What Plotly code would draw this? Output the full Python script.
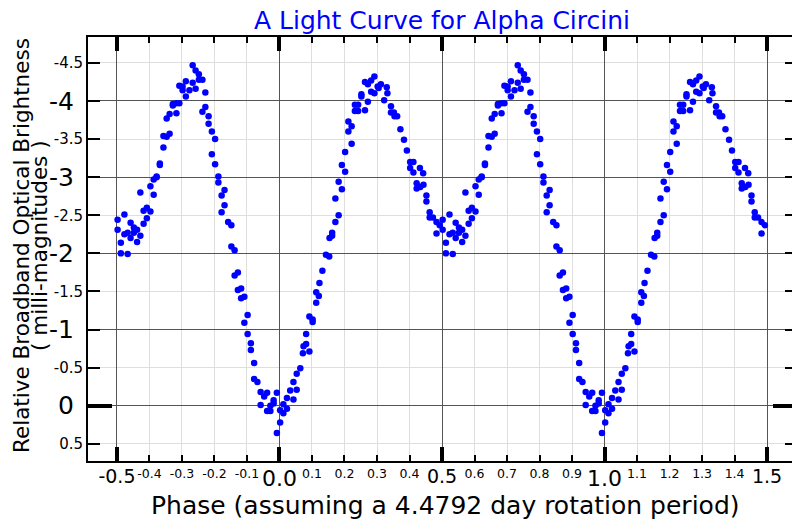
import plotly.graph_objects as go

# ---- Data: one rotation cycle (phase 0..1), relative brightness in milli-magnitudes
phase = [
    0.002, 0.002, 0.012, 0.012, 0.023, 0.023, 0.033, 0.043, 0.043, 0.053,
    0.053, 0.064, 0.072, 0.074, 0.082, 0.082, 0.092, 0.092, 0.102, 0.102,
    0.113, 0.113, 0.121, 0.123, 0.132, 0.143, 0.153, 0.154, 0.162, 0.162,
    0.172, 0.182, 0.172, 0.192, 0.182, 0.202, 0.192, 0.202, 0.222, 0.212,
    0.222, 0.212, 0.232, 0.242, 0.232, 0.242, 0.252, 0.252, 0.263, 0.263,
    0.272, 0.272, 0.282, 0.282, 0.292, 0.292, 0.302, 0.312, 0.305, 0.322,
    0.330, 0.332, 0.343, 0.343, 0.352, 0.354, 0.362, 0.372, 0.383, 0.392,
    0.402, 0.412, 0.402, 0.412, 0.432, 0.442, 0.422, 0.422, 0.433, 0.443,
    0.452, 0.452, 0.462, 0.462, 0.472, 0.483, 0.483, 0.493,
    0.502, 0.502, 0.512, 0.512, 0.523, 0.523, 0.533, 0.533, 0.542, 0.542,
    0.552, 0.552, 0.562, 0.562, 0.572, 0.572, 0.582, 0.582, 0.592, 0.592,
    0.603, 0.603, 0.613, 0.613, 0.622, 0.622, 0.632, 0.632, 0.643, 0.643,
    0.653, 0.662, 0.653, 0.662, 0.672, 0.672, 0.683, 0.683, 0.692, 0.692,
    0.702, 0.702, 0.712, 0.712, 0.723, 0.733, 0.733, 0.742, 0.742, 0.752,
    0.752, 0.763, 0.763, 0.772, 0.772, 0.782, 0.782, 0.792, 0.802, 0.792,
    0.802, 0.812, 0.812, 0.831, 0.822, 0.831, 0.822, 0.842, 0.852, 0.852,
    0.862, 0.862, 0.872, 0.872, 0.882, 0.882, 0.892, 0.902, 0.892, 0.902,
    0.912, 0.912, 0.922, 0.922, 0.932, 0.942, 0.942, 0.953, 0.962, 0.962,
    0.972, 0.972, 0.982, 0.982, 0.992, 0.992,
]
mag = [
    0.22, 0.06, 0.10, -0.02, 0.04, -0.10, -0.20, -0.08, -0.31, -0.21,
    -0.42, -0.49, -0.69, -0.78, -0.81, -0.94, -0.71, -1.17, -1.13, -1.10,
    -1.35, -1.49, -1.44, -1.61, -1.77, -1.98, -1.96, -2.20, -2.27, -2.23,
    -2.41, -2.50, -2.72, -2.84, -2.94, -3.07, -3.16, -3.33, -3.44, -3.60,
    -3.67, -3.73, -3.87, -3.87, -3.95, -3.95, -4.06, -4.09, -3.88, -4.25,
    -3.99, -4.22, -4.12, -4.27, -4.10, -4.32, -4.19, -4.22, -4.17, -4.01,
    -4.18, -4.10, -3.93, -3.85, -3.85, -3.80, -3.80, -3.63, -3.49, -3.35,
    -3.20, -3.20, -3.12, -3.06, -3.12, -3.05, -2.92, -2.85, -2.87, -2.90,
    -2.76, -2.68, -2.54, -2.47, -2.47, -2.41, -2.26, -2.37,
    -2.44, -2.31, -2.14, -2.00, -2.51, -2.25, -2.27, -1.99, -2.40, -2.20,
    -2.34, -2.27, -2.31, -2.15, -2.23, -2.80, -2.56, -2.39, -2.60, -2.46,
    -2.55, -2.88, -2.77, -2.97, -3.00, -3.01, -3.18, -3.16, -3.39, -3.54,
    -3.53, -3.57, -3.77, -3.83, -3.96, -3.94, -3.84, -3.97, -3.97, -4.20,
    -4.19, -4.14, -4.26, -4.06, -4.14, -4.47, -4.24, -4.40, -4.16, -4.35,
    -4.28, -4.28, -3.86, -4.11, -3.92, -3.80, -3.70, -3.60, -3.50, -3.30,
    -3.17, -3.01, -2.93, -2.83, -2.76, -2.63, -2.54, -2.41, -2.37, -2.09,
    -2.04, -1.71, -1.75, -1.52, -1.54, -1.41, -1.43, -1.19, -1.09, -0.94,
    -0.82, -0.73, -0.56, -0.35, -0.31, -0.18, -0.01, -0.12, -0.17, 0.07,
    0.07, 0.00, -0.07, -0.03, -0.17, 0.36,
]

x_major_big = [0.0, 1.0]
x_major_big_text = ["0.0", "1.0"]
x_major_mid = [-0.5, 0.5, 1.5]
x_major_mid_text = ["-0.5", "0.5", "1.5"]
x_minor = [-0.4, -0.3, -0.2, -0.1, 0.1, 0.2, 0.3, 0.4, 0.6, 0.7, 0.8, 0.9,
           1.1, 1.2, 1.3, 1.4]
x_minor_text = ["-0.4", "-0.3", "-0.2", "-0.1", "0.1", "0.2", "0.3", "0.4",
                "0.6", "0.7", "0.8", "0.9", "1.1", "1.2", "1.3", "1.4"]
y_major = [-4, -3, -2, -1, 0]
y_major_text = ["-4", "-3", "-2", "-1", "0"]
y_minor = [-4.5, -3.5, -2.5, -1.5, -0.5, 0.5]
y_minor_text = ["-4.5", "-3.5", "-2.5", "-1.5", "-0.5", "0.5"]

x_range = [-0.589, 1.592]
y_range = [0.726, -4.84]

# phase-folded display from -0.5 to 1.5 (each observation shown twice)
px, py = [], []
for p, m in zip(phase, mag):
    px.append(p)
    py.append(m)
    px.append(p - 1 if p >= 0.5 else p + 1)
    py.append(m)

FONT = "DejaVu Sans"
fig = go.Figure()
fig.add_trace(go.Scatter(x=px, y=py, mode="markers",
                         marker=dict(color="#0000ff", size=6.5),
                         showlegend=False, hoverinfo="x+y"))
# invisible traces to activate overlay axes
fig.add_trace(go.Scatter(x=[None], y=[None], xaxis="x2", yaxis="y2", showlegend=False))
fig.add_trace(go.Scatter(x=[None], y=[None], xaxis="x3", yaxis="y3", showlegend=False))

common_x = dict(range=x_range, fixedrange=True, zeroline=False, automargin=False)
common_y = dict(range=y_range, fixedrange=True, zeroline=False, automargin=False)

# page is offset by the 8px body margin
fig.update_layout(
    template="none",
    width=800, height=520,
    margin=dict(l=80, r=11, t=29, b=67, pad=0),
    paper_bgcolor="white", plot_bgcolor="white",
    font=dict(family=FONT, color="black"),
    title=dict(text="A Light Curve for Alpha Circini", font=dict(family=FONT, size=25, color="#0000ff"),
               x=434 / 800, xanchor="center", yref="container", y=1 - 12 / 520, yanchor="middle",
               automargin=False),
    xaxis=dict(**common_x, tickmode="array", tickvals=x_major_mid + x_major_big,
               ticktext=x_major_mid_text + ["", ""],
               tickfont=dict(size=19), ticks="inside", ticklen=14, tickwidth=4, tickcolor="black",
               showgrid=True, gridcolor="#555555", gridwidth=1,
               showline=True, linecolor="black", linewidth=2, mirror="allticks",
               ticklabelstandoff=-3,
               minor=dict(tickmode="array", tickvals=x_minor, ticks="inside", ticklen=6,
                          tickwidth=1.5, tickcolor="black", showgrid=True,
                          gridcolor="#dedede", gridwidth=1)),
    xaxis2=dict(**common_x, overlaying="x", side="bottom", tickmode="array",
                tickvals=x_major_big, ticktext=x_major_big_text, tickfont=dict(size=22),
                ticks="", showgrid=False, showline=False, ticklabelstandoff=2),
    xaxis3=dict(**common_x, overlaying="x", side="bottom", tickmode="array",
                tickvals=x_minor, ticktext=x_minor_text, tickfont=dict(size=12.5),
                ticks="", showgrid=False, showline=False, ticklabelstandoff=3),
    yaxis=dict(**common_y, tickmode="array", tickvals=y_major, ticktext=y_major_text,
               tickfont=dict(size=25), ticks="inside", ticklen=12, tickwidth=1.5, tickcolor="black",
               showgrid=True, gridcolor="#555555", gridwidth=1,
               showline=True, linecolor="black", linewidth=2, mirror="allticks",
               ticklabelstandoff=7,
               minor=dict(tickmode="array", tickvals=y_minor, ticks="inside", ticklen=12,
                          tickwidth=1.5, tickcolor="black", showgrid=True,
                          gridcolor="#dedede", gridwidth=1)),
    yaxis2=dict(**common_y, overlaying="y", side="left", tickmode="array",
                tickvals=y_minor, ticktext=y_minor_text, tickfont=dict(size=15),
                ticks="", showgrid=False, showline=False, ticklabelstandoff=4),
    yaxis3=dict(**common_y, overlaying="y", side="left", tickmode="array",
                tickvals=[0], ticks="inside", ticklen=24, tickwidth=4, tickcolor="black",
                showticklabels=False, showgrid=False, showline=False, mirror="ticks"),
    annotations=[
        dict(text="Phase (assuming a 4.4792 day rotation period)", xref="paper", yref="paper",
             x=(445 - 88) / 709, y=(461 - 505) / 424, xanchor="center", yanchor="middle",
             showarrow=False, font=dict(family=FONT, size=25, color="black")),
        dict(text="Relative Broadband Optical Brightness", xref="paper", yref="paper",
             x=(21 - 88) / 709, y=(461 - 246) / 424, xanchor="center", yanchor="middle",
             textangle=-90, showarrow=False, font=dict(family=FONT, size=21.5, color="black")),
        dict(text="( milli-magnitudes )", xref="paper", yref="paper",
             x=(39 - 88) / 709, y=(461 - 246) / 424, xanchor="center", yanchor="middle",
             textangle=-90, showarrow=False, font=dict(family=FONT, size=21.5, color="black")),
    ],
)

fig.write_html("out.html")
